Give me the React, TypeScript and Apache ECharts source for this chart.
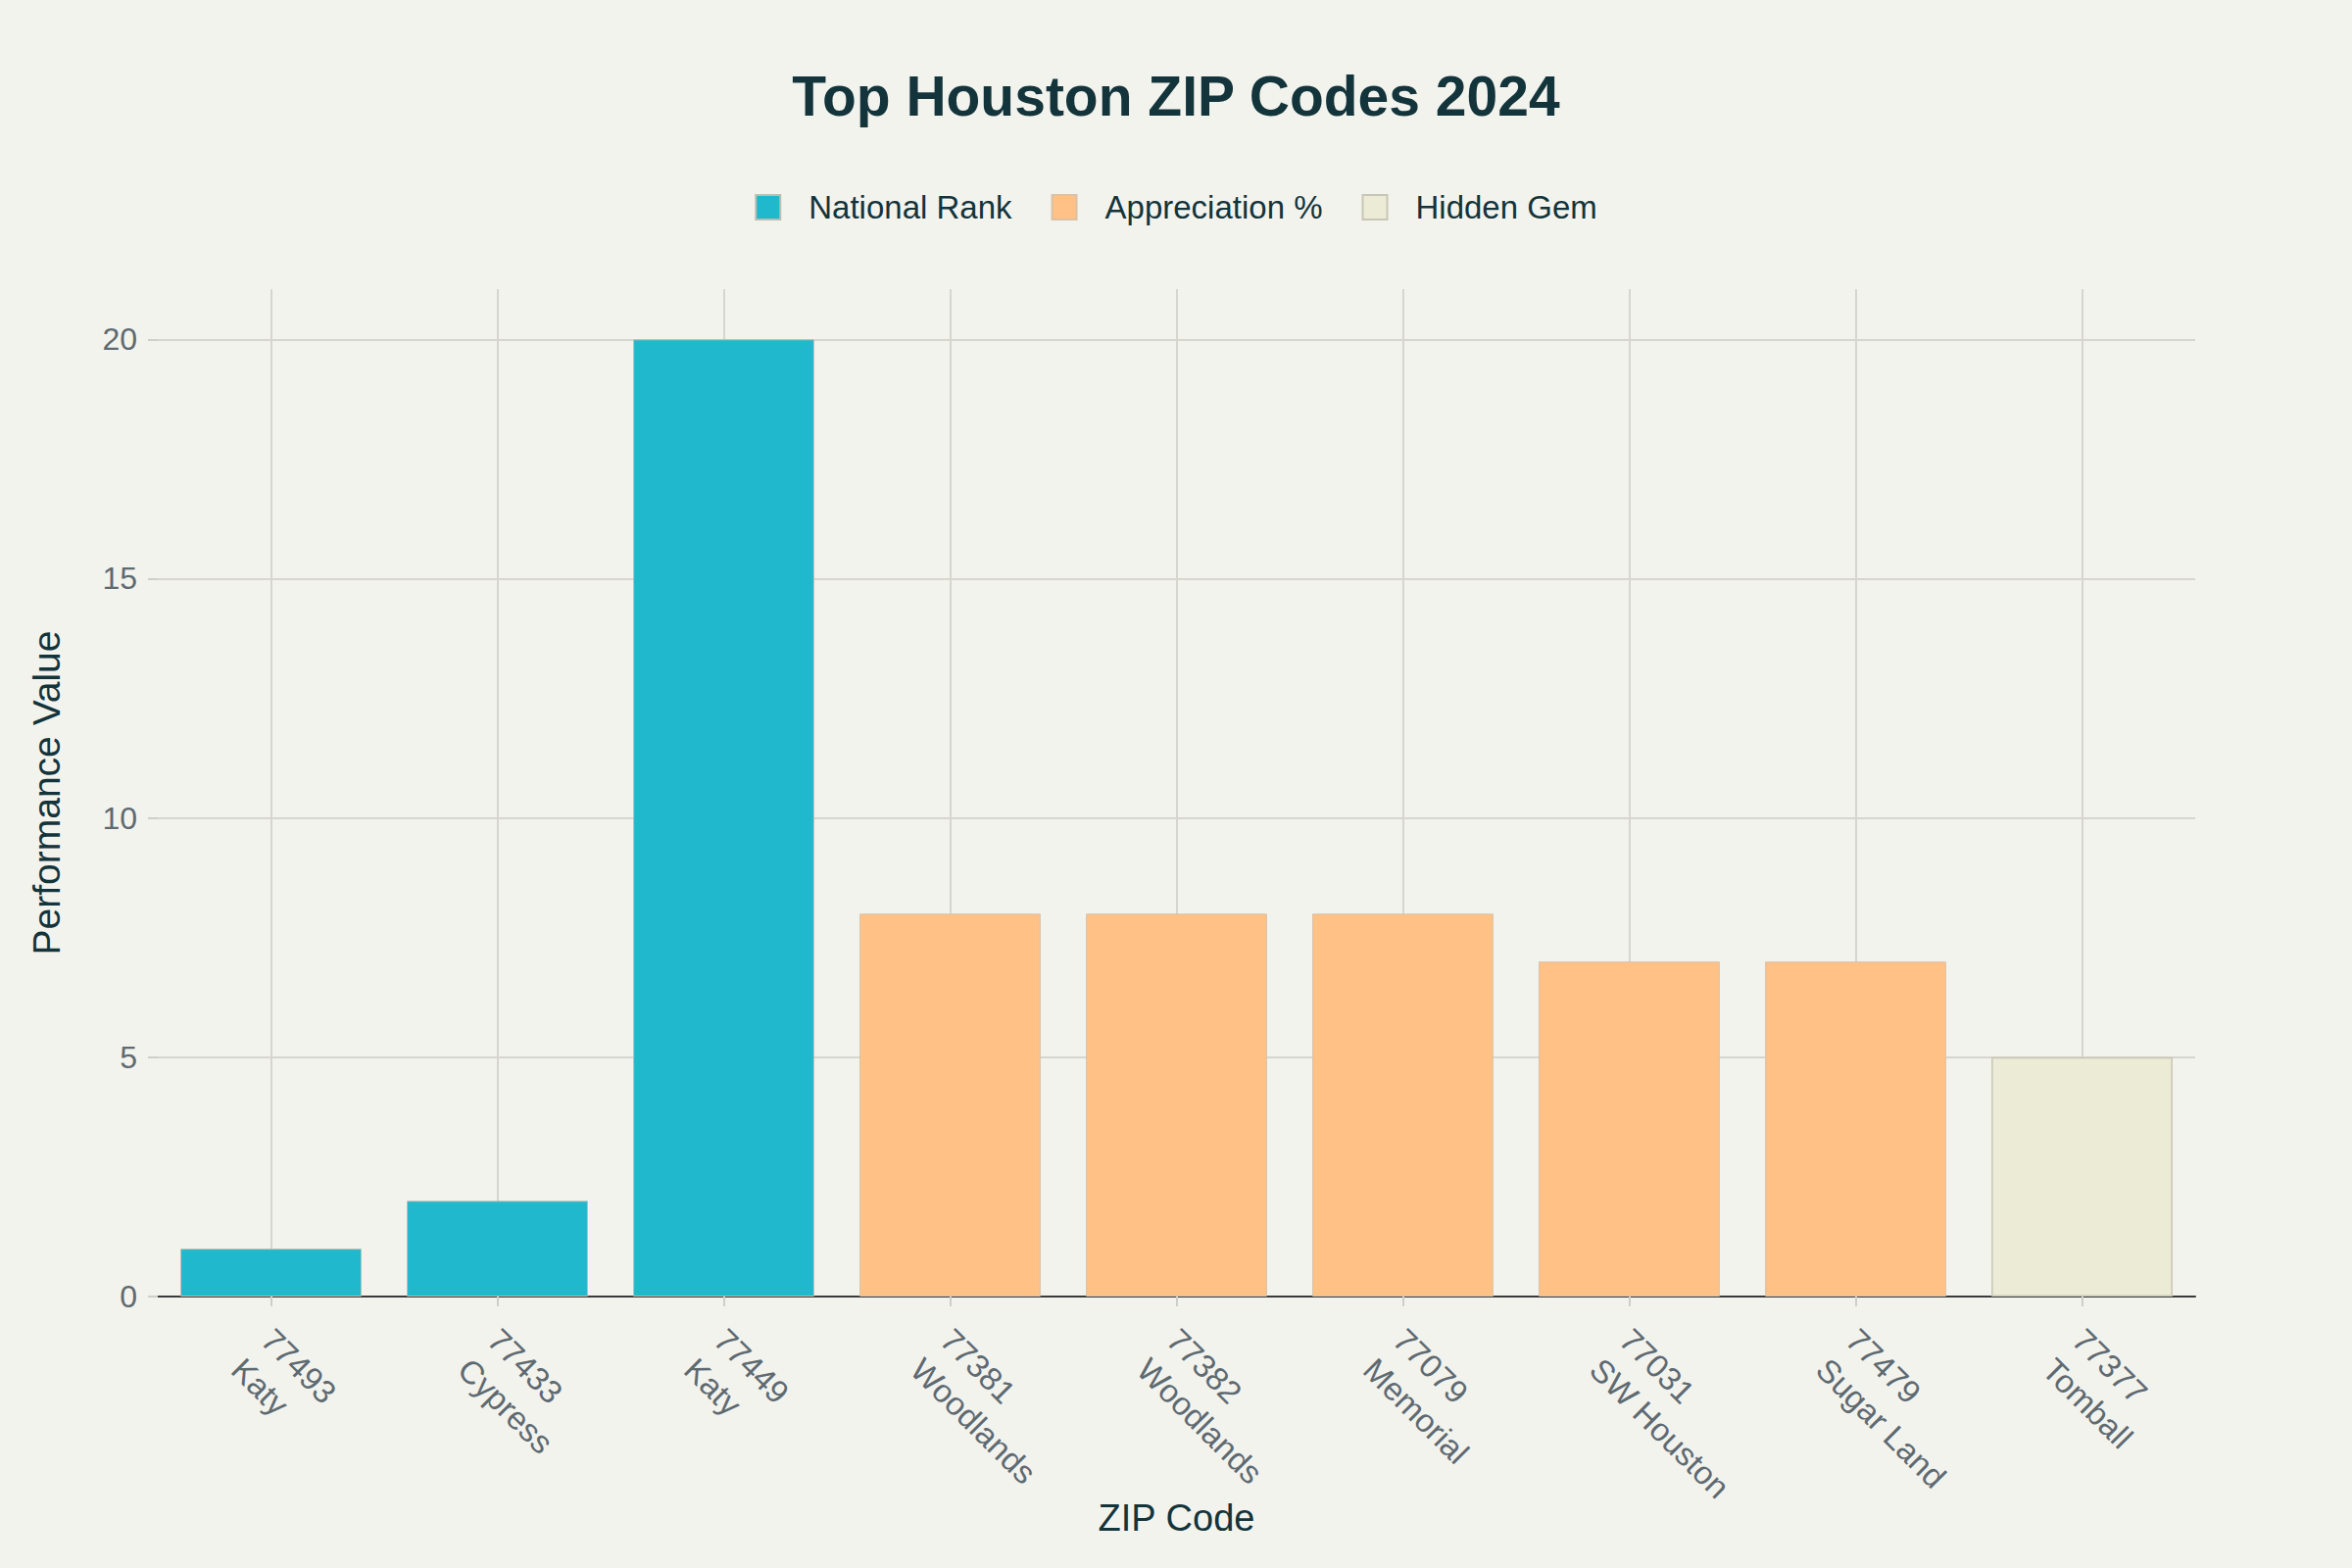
import React, { useEffect, useRef } from "react";
import * as echarts from "echarts";

const categories = [
  "77493\nKaty",
  "77433\nCypress",
  "77449\nKaty",
  "77381\nWoodlands",
  "77382\nWoodlands",
  "77079\nMemorial",
  "77031\nSW Houston",
  "77479\nSugar Land",
  "77377\nTomball",
];
const nationalRank = [1, 2, 20, "-", "-", "-", "-", "-", "-"];
const appreciation = ["-", "-", "-", 8, 8, 8, 7, 7, "-"];
const hiddenGem = ["-", "-", "-", "-", "-", "-", "-", "-", 5];
const yTicks = [0, 5, 10, 15, 20];

const FONT = "'Liberation Sans', Arial, sans-serif";
const DARK = "#13343B";
const GRAY = "#5E6A71";
const GRID = "#d6d5ce";

export default function App() {
  const ref = useRef<HTMLDivElement>(null);
  useEffect(() => {
    document.body.style.margin = "0";
    const chart = echarts.init(ref.current!, null, { renderer: "svg" });
    const barBase = {
      type: "bar",
      barWidth: "80%",
      barGap: "-100%",
    };
    chart.setOption({
      animation: false,
      backgroundColor: "#f3f3ee",
      textStyle: { fontFamily: FONT },
      title: {
        text: "Top Houston ZIP Codes 2024",
        left: "center",
        top: 64,
        textStyle: { fontFamily: FONT, fontSize: 57, fontWeight: "bold", color: DARK },
      },
      legend: {
        top: 190,
        left: "center",
        itemWidth: 25,
        itemHeight: 25,
        itemGap: 40,
        icon: "rect",
        textStyle: { fontFamily: FONT, fontSize: 33, color: DARK, padding: [0, 0, 0, 24] },
      },
      grid: { left: 161, right: 160, top: 295, bottom: 277, containLabel: false },
      xAxis: {
        type: "category",
        data: categories,
        name: "ZIP Code",
        nameLocation: "middle",
        nameGap: 207,
        nameMoveOverlap: false,
        nameTextStyle: { fontFamily: FONT, fontSize: 38, color: DARK },
        axisLine: { show: true, lineStyle: { color: "#3a3a3a", width: 2 } },
        axisTick: { show: true, alignWithLabel: true, length: 10, lineStyle: { color: "#cfcfc8", width: 2 } },
        splitLine: { show: true, alignWithLabel: true, lineStyle: { color: GRID, width: 2 } },
        axisLabel: {
          rotate: -45,
          interval: 0,
          margin: 12,
          padding: [0, 0, 0, 16],
          align: "left",
          verticalAlign: "top",
          fontFamily: FONT,
          fontSize: 33,
          lineHeight: 43,
          color: GRAY,
        },
      },
      yAxis: {
        type: "value",
        min: 0,
        max: 21.05,
        interval: 5,
        name: "Performance Value",
        nameLocation: "middle",
        nameGap: 94,
        nameMoveOverlap: false,
        nameTextStyle: { fontFamily: FONT, fontSize: 39, color: DARK },
        axisLine: { show: false },
        axisTick: { show: true, length: 10, customValues: yTicks, lineStyle: { color: "#cfcfc8", width: 2 } },
        axisLabel: { margin: 21, customValues: yTicks, fontFamily: FONT, fontSize: 32, color: GRAY },
        splitLine: { show: true, lineStyle: { color: GRID, width: 2 } },
      },
      series: [
        {
          ...barBase,
          name: "National Rank",
          data: nationalRank,
          itemStyle: { color: "#1FB8CD", borderColor: "#bdbdb2", borderWidth: 1 },
        },
        {
          ...barBase,
          name: "Appreciation %",
          data: appreciation,
          itemStyle: { color: "#FFC185", borderColor: "#d8c2a8", borderWidth: 1 },
        },
        {
          ...barBase,
          name: "Hidden Gem",
          data: hiddenGem,
          itemStyle: { color: "#ECEBD5", borderColor: "#c9c6b5", borderWidth: 1.5 },
        },
      ],
    });
    return () => chart.dispose();
  }, []);
  return <div ref={ref} style={{ width: 2400, height: 1600 }} />;
}
